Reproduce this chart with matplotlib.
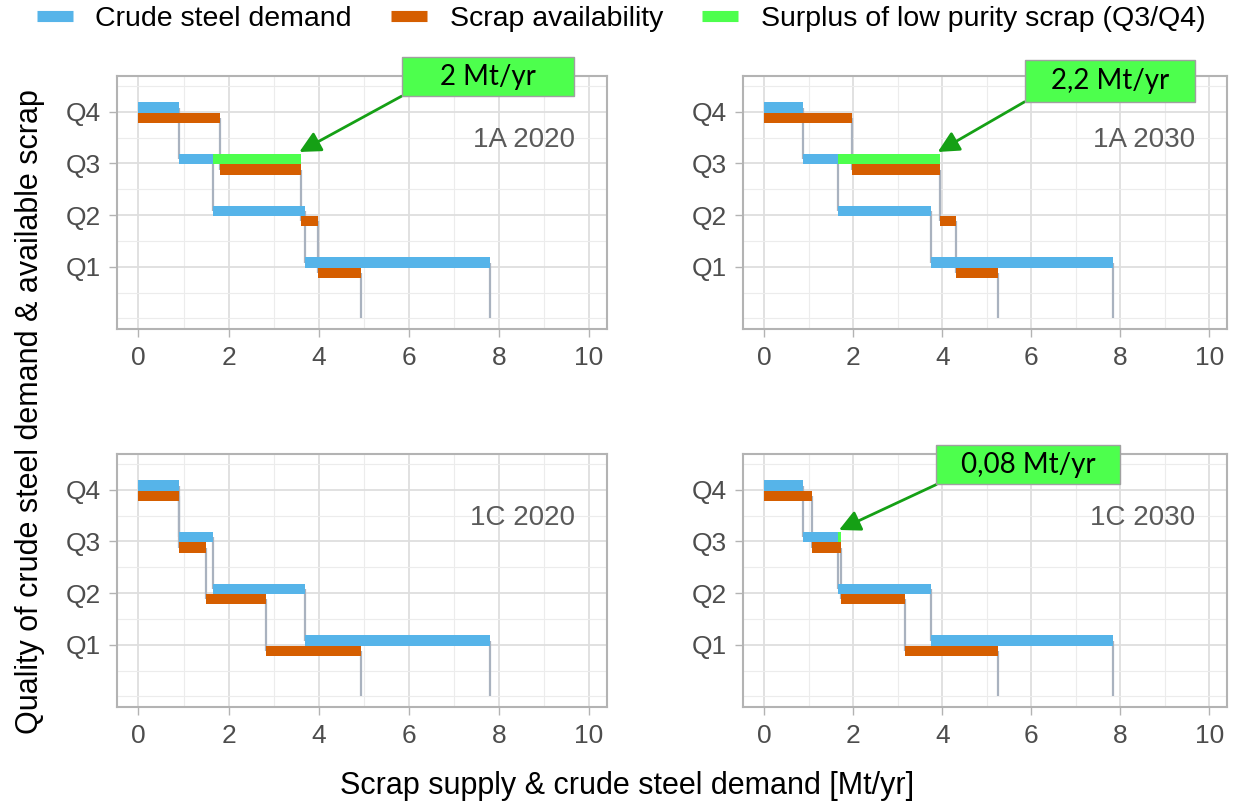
import numpy as np
import matplotlib.pyplot as plt
from matplotlib.lines import Line2D
from matplotlib.patches import Rectangle

plt.rcParams['font.family'] = ['Liberation Sans', 'DejaVu Sans']

# quality classes, highest purity first
quality_levels = [4, 3, 2, 1]
quality_labels = ['Q1', 'Q2', 'Q3', 'Q4']

# amounts per quality class (Q4, Q3, Q2, Q1) in Mt/yr
demand_2020 = [0.89, 0.76, 2.05, 4.10]
demand_2030 = [0.875, 0.775, 2.09, 4.10]
scrap_1a_2020 = [1.82, 1.79, 0.37, 0.95]
scrap_1a_2030 = [1.97, 1.97, 0.36, 0.96]
scrap_1c_2020 = [0.89, 0.61, 1.33, 2.10]
scrap_1c_2030 = [1.08, 0.64, 1.45, 2.09]

panel_names = ['1A 2020', '1A 2030', '1C 2020', '1C 2030']
surplus_labels = ['2 Mt/yr', '2,2 Mt/yr', None, '0,08 Mt/yr']

BLUE = '#56b4e9'
ORANGE = '#d55e00'
GREEN = '#4dff4d'
ARROW = '#15a015'
STEP = '#a9b2bf'
W, H = 1233, 808

fig = plt.figure(figsize=(W / 100, H / 100), dpi=100)


def ax_at(left, top, right, bottom):
    return fig.add_axes([left / W, 1 - bottom / H, (right - left) / W, (bottom - top) / H])


def draw_panel(ax, demand, scrap, name, label, box):
    levels = np.array(quality_levels, dtype=float)
    demand = np.array(demand)
    scrap = np.array(scrap)
    d_end = np.cumsum(demand)
    s_end = np.cumsum(scrap)

    ax.barh(levels + 0.08, demand, left=d_end - demand, height=0.2,
            color=BLUE, linewidth=0, zorder=3)
    ax.barh(levels - 0.12, scrap, left=s_end - scrap, height=0.2,
            color=ORANGE, linewidth=0, zorder=3)

    # step connectors
    for ends, off in [(d_end, 0.08), (s_end, -0.12)]:
        y_top = levels + off
        y_bot = np.append(levels[1:] + off, 0)
        ax.vlines(ends, y_bot, y_top, color=STEP, lw=1.6, zorder=2)

    # surplus of low purity scrap (Q3/Q4)
    surplus = s_end[1] - d_end[1]
    if surplus > 0:
        ax.barh(3 + 0.08, surplus, left=d_end[1], height=0.2,
                color=GREEN, linewidth=0, zorder=4)

    ax.text(9.68, 3.45, name, ha='right', va='center', color='#5a5a5a', fontsize=20)

    if label is not None:
        bx0, by0, bx1, by1 = box
        ax.annotate('', xy=(s_end[1] - 0.04, 3.22), xytext=(bx0, by0),
                    arrowprops=dict(arrowstyle='-|>', color=ARROW, lw=2,
                                    mutation_scale=32, shrinkA=0, shrinkB=0),
                    annotation_clip=False, zorder=6)
        ax.add_patch(Rectangle((bx0, by0), bx1 - bx0, by1 - by0, facecolor=GREEN,
                               edgecolor='#a0a0a0', lw=1, clip_on=False, zorder=7))
        ax.text((bx0 + bx1) / 2, (by0 + by1) / 2, label, ha='center', va='center',
                fontsize=20, family=['Lato', 'DejaVu Sans'], color='black', zorder=8)

    ax.set_xlim(-0.47, 10.4)
    ax.set_ylim(-0.205, 4.69)
    ax.set_xticks(np.arange(0, 11, 2))
    ax.set_xticks(np.arange(1, 10, 2), minor=True)
    ax.set_yticks([1, 2, 3, 4])
    ax.set_yticklabels(quality_labels)
    ax.set_yticks(np.arange(0, 4.6, 0.5), minor=True)
    ax.grid(True, which='major', color='#dedede', lw=1.3, zorder=0)
    ax.grid(True, which='minor', color='#ececec', lw=0.8, zorder=0)
    ax.set_axisbelow(True)
    ax.tick_params(which='major', length=6, width=1, color='#b3b3b3',
                   labelsize=19, labelcolor='#4d4d4d', pad=6)
    ax.tick_params(which='minor', length=0)
    for sp in ax.spines.values():
        sp.set_color('#b3b3b3')
        sp.set_linewidth(1.5)


panels = [
    (ax_at(117.3, 76, 607, 329), demand_2020, scrap_1a_2020, (5.84, 4.30, 9.66, 5.06)),
    (ax_at(743.3, 76, 1227, 329), demand_2030, scrap_1a_2030, (5.85, 4.19, 9.68, 5.0)),
    (ax_at(117.3, 454, 607, 707), demand_2020, scrap_1c_2020, None),
    (ax_at(743.3, 454, 1227, 707), demand_2030, scrap_1c_2030, (3.87, 4.10, 8.0, 4.86)),
]
for (ax, dem, scr, box), name, lab in zip(panels, panel_names, surplus_labels):
    draw_panel(ax, dem, scr, name, lab, box)

fig.text(30 / W, 1 - 412 / H, 'Quality of crude steel demand & available scrap',
         rotation=90, ha='center', va='center', fontsize=22)
fig.text(627 / W, 1 - 786 / H, 'Scrap supply & crude steel demand [Mt/yr]',
         ha='center', va='center', fontsize=22)

handles = [Line2D([], [], color=c, lw=8, solid_capstyle='butt') for c in (BLUE, ORANGE, GREEN)]
fig.legend(handles, ['Crude steel demand', 'Scrap availability',
                     'Surplus of low purity scrap (Q3/Q4)'],
           loc='center', bbox_to_anchor=(621 / W, 1 - 19 / H), ncol=3, frameon=False,
           fontsize=20.5, handlelength=1.26, handletextpad=0.8, columnspacing=1.37)

fig.savefig('out.png', dpi=100)
